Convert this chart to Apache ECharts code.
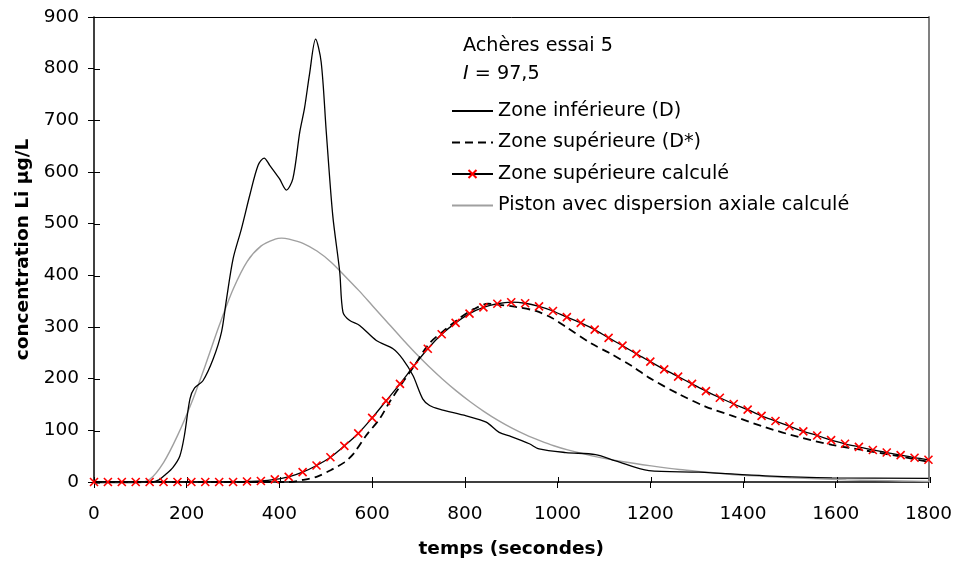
<!DOCTYPE html>
<html>
<head>
<meta charset="utf-8">
<script src="https://cdn.jsdelivr.net/npm/echarts@6/dist/echarts.min.js"></script>
<style>
  html, body { margin: 0; padding: 0; background: #fff; }
  #chart { width: 955px; height: 564px; }
</style>
</head>
<body>
<div id="chart"></div>
<script>
// Zone inférieure (D) — measured breakthrough
const lowerTime = [0, 125, 140, 155, 170, 185, 195, 207, 217, 235, 257, 275, 286, 300, 318, 336, 354, 367, 379, 400, 415, 429, 444, 454, 465, 478, 490, 501, 515, 530, 537, 551, 573, 609, 645, 666, 688, 709, 724, 745, 803, 846, 874, 900, 939, 960, 1018, 1082, 1125, 1197, 1305, 1448, 1592, 1800];
const lowerConc = [0, 0, 4, 15, 28, 50, 90, 161, 182, 196, 238, 290, 355, 432, 490, 555, 613, 627, 613, 587, 565, 587, 678, 723, 790, 857, 813, 678, 516, 407, 329, 313, 303, 274, 258, 238, 206, 161, 148, 141, 128, 116, 96, 88, 74, 64, 57, 53, 41, 22, 19, 12, 8, 7];

// Zone supérieure (D*) — measured
const upperTime = [0, 420, 450, 480, 515, 540, 560, 587, 616, 637, 666, 688, 723, 759, 790, 820, 850, 874, 910, 953, 989, 1018, 1075, 1111, 1161, 1197, 1262, 1319, 1377, 1448, 1520, 1592, 1664, 1736, 1800];
const upperConc = [0, 0, 4, 10, 25, 38, 55, 90, 122, 154, 193, 221, 268, 296, 318, 335, 345, 343, 339, 331, 317, 300, 267, 250, 224, 202, 170, 146, 128, 106, 87, 72, 61, 50, 39];

// Zone supérieure calculé — model output every 30 s
const calcTime = [0, 30, 60, 90, 120, 150, 180, 210, 240, 270, 300, 330, 360, 390, 420, 450, 480, 510, 540, 570, 600, 630, 660, 690, 720, 750, 780, 810, 840, 870, 900, 930, 960, 990, 1020, 1050, 1080, 1110, 1140, 1170, 1200, 1230, 1260, 1290, 1320, 1350, 1380, 1410, 1440, 1470, 1500, 1530, 1560, 1590, 1620, 1650, 1680, 1710, 1740, 1770, 1800];
const calcConc = [0, 0, 0, 0, 0, 0, 0, 0, 0, 0, 0, 1, 2, 5, 10, 19, 32, 48, 70, 94, 124, 157, 190, 225, 258, 286, 308, 326, 338, 345, 348, 346, 340, 331, 319, 308, 295, 279, 264, 248, 233, 218, 204, 190, 176, 163, 151, 140, 128, 118, 108, 98, 90, 81, 74, 68, 62, 57, 52, 47, 43];

// Piston avec dispersion axiale calculé
const pistonTime = [0, 90, 120, 150, 180, 210, 240, 270, 300, 330, 360, 390, 404, 420, 450, 480, 510, 540, 570, 600, 630, 660, 690, 720, 750, 780, 810, 840, 870, 900, 930, 960, 990, 1020, 1080, 1140, 1200, 1260, 1320, 1380, 1440, 1500, 1560, 1620, 1680, 1740, 1800];
const pistonConc = [0, 0, 7, 40, 92, 155, 228, 305, 375, 428, 458, 471, 473, 471, 463, 448, 427, 400, 372, 342, 312, 282, 253, 226, 201, 178, 157, 138, 121, 106, 93, 82, 72, 64, 51, 41, 33, 26, 21, 16, 13, 10, 8, 6, 5, 4, 3];

const seriesNames = ['Zone inférieure (D)', 'Zone supérieure (D*)', 'Zone supérieure calculé', 'Piston avec dispersion axiale calculé'];
const xAxisTitle = 'temps (secondes)';
const yAxisTitle = 'concentration Li µg/L';
const noteTitle = 'Achères essai 5';
const noteValue = '97,5';

const zip = (t, c) => t.map((v, i) => [v, c[i]]);
const FONT = 'DejaVu Sans';
const plain = v => String(v);

const chart = echarts.init(document.getElementById('chart'), null, { renderer: 'canvas' });

// two grids share one rectangle: grid 0 carries the labelled axes and frame,
// grid 1 carries the inward half of each tick mark
const rect = { left: 94, right: 25, top: 17, bottom: 81, containLabel: false };
const xBase = { type: 'value', min: 0, max: 1800, interval: 200, splitLine: { show: false } };
const yBase = { type: 'value', min: 0, max: 900, interval: 100, splitLine: { show: false } };
const line = (color, width) => ({ show: true, onZero: false, lineStyle: { color: color, width: width } });

chart.setOption({
  animation: false,
  backgroundColor: '#ffffff',
  grid: [Object.assign({}, rect), Object.assign({}, rect)],
  xAxis: [
    Object.assign({}, xBase, {
      gridIndex: 0, position: 'bottom',
      axisLine: line('#000', 1.5),
      axisTick: { show: true, inside: false, length: 6, lineStyle: { color: '#000', width: 1 } },
      axisLabel: { color: '#000', fontFamily: FONT, fontSize: 18.5, margin: 23, formatter: plain },
      name: xAxisTitle, nameLocation: 'middle', nameGap: 58,
      nameTextStyle: { color: '#000', fontFamily: FONT, fontSize: 18.5, fontWeight: 'bold' }
    }),
    Object.assign({}, xBase, {
      gridIndex: 0, position: 'top',
      axisLine: line('#000', 1),
      axisTick: { show: false },
      axisLabel: { show: false }
    }),
    Object.assign({}, xBase, {
      gridIndex: 1, position: 'bottom',
      axisLine: line('rgba(0,0,0,0)', 1),
      axisTick: { show: true, inside: true, length: 6, lineStyle: { color: '#000', width: 1 } },
      axisLabel: { show: false }
    })
  ],
  yAxis: [
    Object.assign({}, yBase, {
      gridIndex: 0, position: 'left',
      axisLine: line('#000', 1.5),
      axisTick: { show: true, inside: false, length: 6, lineStyle: { color: '#000', width: 1 } },
      axisLabel: { color: '#000', fontFamily: FONT, fontSize: 18.5, margin: 15, formatter: plain },
      name: yAxisTitle, nameLocation: 'middle', nameGap: 56, nameRotate: 90,
      nameTextStyle: { color: '#000', fontFamily: FONT, fontSize: 18.5, fontWeight: 'bold' }
    }),
    Object.assign({}, yBase, {
      gridIndex: 0, position: 'right',
      axisLine: line('#808080', 2),
      axisTick: { show: false },
      axisLabel: { show: false }
    }),
    Object.assign({}, yBase, {
      gridIndex: 1, position: 'left',
      axisLine: line('rgba(0,0,0,0)', 1),
      axisTick: { show: true, inside: true, length: 6, lineStyle: { color: '#000', width: 1 } },
      axisLabel: { show: false }
    })
  ],
  legend: {
    orient: 'vertical',
    left: 451,
    top: 101,
    padding: 0,
    itemWidth: 41,
    itemHeight: 10,
    itemGap: 11.5,
    textStyle: { color: '#000', fontFamily: FONT, fontSize: 19.2, lineHeight: 20 },
    data: [
      { name: seriesNames[0], itemStyle: { opacity: 0 } },
      { name: seriesNames[1], itemStyle: { opacity: 0 } },
      { name: seriesNames[2] },
      { name: seriesNames[3], itemStyle: { opacity: 0 } }
    ]
  },
  graphic: [
    {
      type: 'text', left: 463, top: 37,
      style: { text: noteTitle, fill: '#000', font: '19.2px "DejaVu Sans"' }
    },
    {
      type: 'text', left: 463, top: 65,
      style: {
        text: '{i|I} = ' + noteValue,
        fill: '#000', font: '19.2px "DejaVu Sans"',
        rich: { i: { fontStyle: 'italic', fontFamily: FONT, fontSize: 19.2, fill: '#000' } }
      }
    }
  ],
  series: [
    {
      name: seriesNames[3], type: 'line', data: zip(pistonTime, pistonConc),
      xAxisIndex: 2, yAxisIndex: 2,
      smooth: 0.3, showSymbol: false, symbol: 'none', z: 2,
      lineStyle: { color: '#a0a0a0', width: 1.4 }, itemStyle: { color: '#a0a0a0' }
    },
    {
      name: seriesNames[0], type: 'line', data: zip(lowerTime, lowerConc),
      xAxisIndex: 0, yAxisIndex: 0,
      smooth: 0.3, showSymbol: false, symbol: 'none', z: 3,
      lineStyle: { color: '#000', width: 1.3 }, itemStyle: { color: '#000' }
    },
    {
      name: seriesNames[1], type: 'line', data: zip(upperTime, upperConc),
      xAxisIndex: 0, yAxisIndex: 0,
      smooth: 0.3, showSymbol: false, symbol: 'none', z: 3,
      lineStyle: { color: '#000', width: 1.8, type: [8, 5] }, itemStyle: { color: '#000' }
    },
    {
      name: seriesNames[2], type: 'line', data: zip(calcTime, calcConc),
      xAxisIndex: 0, yAxisIndex: 0,
      smooth: 0.3, showSymbol: true, z: 4,
      symbol: 'path://M0,0L10,10M10,0L0,10', symbolSize: 8,
      lineStyle: { color: '#000', width: 1.3 },
      itemStyle: { color: '#ff0000', borderColor: '#ff0000', borderWidth: 1.6 }
    }
  ]
});
</script>
</body>
</html>
